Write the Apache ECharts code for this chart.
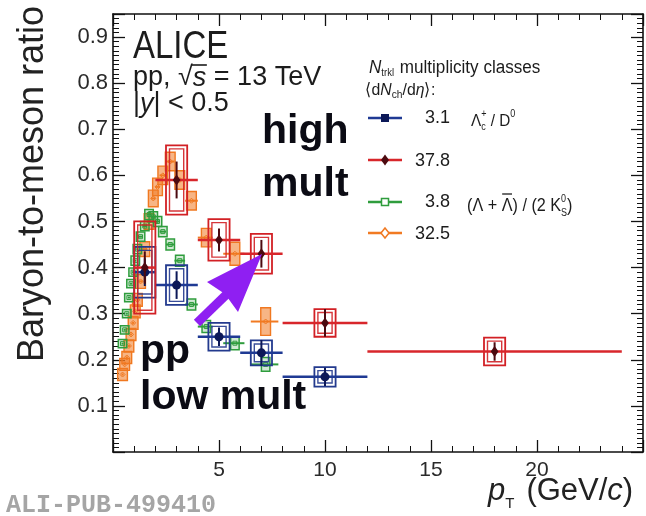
<!DOCTYPE html>
<html>
<head>
<meta charset="utf-8">
<script src="https://cdn.jsdelivr.net/npm/echarts@6/dist/echarts.min.js"></script>
<style>
  html, body { margin: 0; padding: 0; background: #ffffff; }
  #chart { width: 646px; height: 516px; }
</style>
</head>
<body>
<div id="chart"></div>
<script>
// ---------- Λc+ / D0 (pT bins in GeV/c) ----------
const lcX   = [1.5, 3, 5, 7, 10, 18];
const lcXLo = [1, 2, 4, 6, 8, 12];
const lcXHi = [2, 4, 6, 8, 12, 24];
// <dNch/deta> = 3.1
const lcLowY    = [0.39, 0.362, 0.25, 0.215, 0.163];
const lcLowStat = [0.03, 0.03, 0.02, 0.028, 0.02];
const lcLowSys  = [0.055, 0.043, 0.03, 0.027, 0.021];
// <dNch/deta> = 37.8
const lcHighY    = [0.40, 0.59, 0.46, 0.43, 0.28, 0.218];
const lcHighStat = [0.035, 0.04, 0.025, 0.03, 0.03, 0.02];
const lcHighSys  = [0.10, 0.075, 0.045, 0.043, 0.03, 0.03];

// ---------- (Λ + anti-Λ) / (2 K0S) ----------
const v0X   = [0.45, 0.55, 0.65, 0.75, 0.85, 0.95, 1.05, 1.15, 1.3, 1.5, 1.7, 1.9, 2.1, 2.35, 2.7, 3.15, 3.7, 4.4, 5.75, 7.2];
const v0XLo = [0.4, 0.5, 0.6, 0.7, 0.8, 0.9, 1.0, 1.1, 1.2, 1.4, 1.6, 1.8, 2.0, 2.2, 2.5, 2.9, 3.4, 4.0, 5.2, 6.5];
const v0XHi = [0.5, 0.6, 0.7, 0.8, 0.9, 1.0, 1.1, 1.2, 1.4, 1.6, 1.8, 2.0, 2.2, 2.5, 2.9, 3.4, 4.0, 4.7, 6.2, 7.8];
// <dNch/deta> = 3.8
const v0LowY   = [0.235, 0.265, 0.30, 0.335, 0.365, 0.39, 0.415, 0.44, 0.467, 0.49, 0.515, 0.51, 0.50, 0.478, 0.45, 0.415, 0.32, 0.272, 0.236, 0.19];
const v0LowSys = [0.009, 0.009, 0.009, 0.009, 0.009, 0.009, 0.01, 0.01, 0.01, 0.01, 0.011, 0.011, 0.011, 0.011, 0.012, 0.012, 0.012, 0.013, 0.014, 0.015];
// <dNch/deta> = 32.5
const v0HighY   = [0.168, 0.19, 0.205, 0.23, 0.255, 0.28, 0.305, 0.33, 0.37, 0.44, 0.50, 0.55, 0.575, 0.60, 0.63, 0.59, 0.545, 0.465, 0.43, 0.283];
const v0HighSys = [0.013, 0.013, 0.013, 0.013, 0.013, 0.014, 0.014, 0.014, 0.015, 0.016, 0.017, 0.018, 0.019, 0.02, 0.02, 0.02, 0.02, 0.02, 0.025, 0.03];

// ---------- axis ticks ----------
const xTicks = [5, 10, 15, 20];
const yTicks = [0.1, 0.2, 0.3, 0.4, 0.5, 0.6, 0.7, 0.8, 0.9];

const FAM = '"Liberation Sans", Arial, Helvetica, sans-serif';
const COL = {
  blue:   { line: '#1f3a94', box: '#233a8e', mark: '#0c1858' },
  red:    { line: '#d8262b', box: '#d22025', mark: '#4c0a10' },
  green:  { line: '#2f9d3d', box: '#2f9d3d', mark: '#2f9d3d', fill: 'rgba(47,157,61,0.22)' },
  orange: { line: '#f17a22', box: '#f07820', mark: '#f07820', fill: 'rgba(240,120,32,0.55)' }
};

function rows(xs, ys, lo, hi, stat, sys) {
  return ys.map((y, i) => [xs[i], y, lo[i], hi[i], stat ? stat[i] : 0, sys[i]]);
}

function markerShape(kind, cx, cy, c) {
  if (kind === 'circle') {
    return { type: 'circle', shape: { cx: cx, cy: cy, r: 4.5 }, style: { fill: c.mark } };
  }
  if (kind === 'diamond') {
    const r = 5.5;
    return { type: 'polygon', shape: { points: [[cx, cy - r], [cx + r * 0.7, cy], [cx, cy + r], [cx - r * 0.7, cy]] }, style: { fill: c.mark } };
  }
  if (kind === 'osquare') {
    return { type: 'rect', shape: { x: cx - 2, y: cy - 2, width: 4, height: 4 }, style: { fill: 'none', stroke: c.mark, lineWidth: 1 } };
  }
  const r = 2.5;
  return { type: 'polygon', shape: { points: [[cx, cy - r], [cx + r, cy], [cx, cy + r], [cx - r, cy]] }, style: { fill: 'none', stroke: c.mark, lineWidth: 1 } };
}

// one series = systematic boxes, bin-width bars, statistical bars and markers
function pointsSeries(name, data, c, opt) {
  return {
    name: name,
    type: 'custom',
    xAxisIndex: 0, yAxisIndex: 0,
    z: opt.z,
    data: data,
    clip: true,
    renderItem: function (params, api) {
      const x = api.value(0), y = api.value(1);
      const xl = api.value(2), xh = api.value(3);
      const st = api.value(4), sy = api.value(5);
      const p = api.coord([x, y]);
      const pl = api.coord([xl, y]);
      const ph = api.coord([xh, y]);
      const bl = api.coord([x - opt.boxHalf, y + sy]);
      const br = api.coord([x + opt.boxHalf, y - sy]);
      const children = [];
      children.push({
        type: 'rect',
        shape: { x: bl[0], y: bl[1], width: br[0] - bl[0], height: br[1] - bl[1] },
        style: { fill: c.fill || 'none', stroke: c.box, lineWidth: opt.boxLW }
      });
      if (opt.double) {
        const ins = 3.5;
        children.push({
          type: 'rect',
          shape: { x: bl[0] + ins, y: bl[1] + ins, width: br[0] - bl[0] - 2 * ins, height: Math.max(1, br[1] - bl[1] - 2 * ins) },
          style: { fill: 'none', stroke: c.box, lineWidth: 1.4, opacity: 0.9 }
        });
      }
      children.push({
        type: 'line',
        shape: { x1: pl[0], y1: p[1], x2: ph[0], y2: p[1] },
        style: { stroke: c.line, lineWidth: opt.barLW }
      });
      if (st > 0) {
        const s1 = api.coord([x, y + st]);
        const s0 = api.coord([x, y - st]);
        children.push({
          type: 'line',
          shape: { x1: p[0], y1: s1[1], x2: p[0], y2: s0[1] },
          style: { stroke: opt.statColor || c.line, lineWidth: 2 }
        });
      }
      children.push(markerShape(opt.marker, p[0], p[1], c));
      return { type: 'group', children: children };
    }
  };
}

// ---------- text helpers ----------
const mctx = document.createElement('canvas').getContext('2d');
function fontOf(size, italic, bold, fam) {
  return (italic ? 'italic ' : '') + (bold ? 'bold ' : '') + size + 'px ' + (fam || FAM);
}
function textW(str, font) { mctx.font = font; return mctx.measureText(str).width; }

// a run of text pieces laid out left to right; y is the vertical middle of the run.
// records the left/right x of every piece in spans when given
function run(x, y, pieces, base, spans) {
  const out = [];
  let cx = x;
  const sx = base.sx || 1, sy = base.sy || 1;
  pieces.forEach(pc => {
    const size = pc.s || base.size;
    const font = fontOf(size, pc.it, pc.b || base.bold, base.fam);
    const w = textW(pc.t, font) * sx;
    const left = cx + (pc.dx || 0);
    out.push({
      type: 'text', x: left, y: y + (pc.dy || 0), z: 100,
      scaleX: sx, scaleY: sy, silent: true,
      style: { text: pc.t, font: font, fill: base.color || '#1a1a1a', textAlign: 'left', textVerticalAlign: 'middle', verticalAlign: 'middle' }
    });
    if (spans) spans.push([left, left + w]);
    if (!pc.noAdvance) cx += w + (pc.gap || 0);
  });
  return out;
}

// ---------- legend samples ----------
function legendSample(y, c, kind) {
  const items = [
    { type: 'line', shape: { x1: 368, y1: y, x2: 402, y2: y }, style: { stroke: c.line, lineWidth: 2.5 }, z: 100 }
  ];
  let m;
  if (kind === 'square') {
    m = { type: 'rect', shape: { x: 381, y: y - 4, width: 8, height: 8 }, style: { fill: c.mark } };
  } else if (kind === 'diamond') {
    m = { type: 'polygon', shape: { points: [[385, y - 5.5], [389, y], [385, y + 5.5], [381, y]] }, style: { fill: c.mark } };
  } else if (kind === 'osquare') {
    m = { type: 'rect', shape: { x: 381.5, y: y - 3.5, width: 7, height: 7 }, style: { fill: '#fff', stroke: c.mark, lineWidth: 1.5 } };
  } else {
    m = { type: 'polygon', shape: { points: [[385, y - 5], [389, y], [385, y + 5], [381, y]] }, style: { fill: '#fff', stroke: c.mark, lineWidth: 1.5 } };
  }
  m.z = 101;
  items.push(m);
  return items;
}

const graphics = [];
const TXT = '#1c1c1c';
// experiment label
graphics.push(...run(133, 47, [{ t: 'ALICE' }], { size: 33, sy: 1.2, color: TXT }));
const sqrtSpans = [];
graphics.push(...run(133, 78, [{ t: 'pp, ' }, { t: '\u221A' }, { t: 's', it: true }, { t: ' = 13 TeV' }], { size: 27, sx: 1, color: TXT }, sqrtSpans));
graphics.push(...run(133, 104, [{ t: '|' }, { t: 'y', it: true }, { t: '| < 0.5' }], { size: 27, sx: 1, color: TXT }));
// vinculum of the square root, over the s
graphics.push({ type: 'line', shape: { x1: sqrtSpans[1][1] - 1.5, y1: 65, x2: sqrtSpans[2][1] + 0.5, y2: 65 }, style: { stroke: TXT, lineWidth: 1.6 }, z: 100 });

// legend header
graphics.push(...run(369, 68, [{ t: 'N', it: true }, { t: 'trkl', s: 10, dy: 5, gap: 1 }, { t: ' multiplicity classes' }], { size: 18, sx: 0.95, color: TXT }));
graphics.push(...run(365, 90, [{ t: '\u27E8d' }, { t: 'N', it: true }, { t: 'ch', s: 11, dy: 5 }, { t: '/d' }, { t: '\u03B7', it: true }, { t: '\u27E9:' }], { size: 17, sx: 0.93, color: TXT }));

// legend rows
graphics.push(...legendSample(118, COL.blue, 'square'));
graphics.push(...legendSample(160, COL.red, 'diamond'));
graphics.push(...legendSample(202, COL.green, 'osquare'));
graphics.push(...legendSample(233, COL.orange, 'odiamond'));
[['3.1', 118], ['37.8', 161], ['3.8', 202], ['32.5', 234]].forEach(([s, y]) => {
  graphics.push({ type: 'text', x: 450, y: y, z: 100, silent: true,
    style: { text: s, font: fontOf(18), fill: TXT, textAlign: 'right', textVerticalAlign: 'middle', verticalAlign: 'middle' } });
});
graphics.push(...run(471, 121, [{ t: '\u039B' }, { t: 'c', s: 10, dy: 6, noAdvance: true }, { t: '+', s: 10, dy: -7 }, { t: ' / D' }, { t: '0', s: 10, dy: -7 }], { size: 17, sx: 0.9, color: TXT }));
const v0Spans = [];
graphics.push(...run(467, 206, [{ t: '(\u039B + ' }, { t: '\u039B' }, { t: ') / (2 K' }, { t: '0', s: 10, dy: -7, noAdvance: true }, { t: 'S', s: 10, dy: 7 }, { t: ')' }], { size: 18, sx: 0.9, color: TXT }, v0Spans));
// bar over the second Λ
graphics.push({ type: 'line', shape: { x1: v0Spans[1][0] + 0.5, y1: 194, x2: v0Spans[1][1] - 0.5, y2: 194 }, style: { stroke: TXT, lineWidth: 1.3 }, z: 100 });

// annotations
const NOTE = '#0b0b14';
graphics.push(...run(262, 132, [{ t: 'high' }], { size: 41, bold: true, color: NOTE }));
graphics.push(...run(262, 185, [{ t: 'mult' }], { size: 41, bold: true, color: NOTE }));
graphics.push(...run(140, 352, [{ t: 'pp' }], { size: 41, bold: true, color: NOTE }));
graphics.push(...run(140, 398, [{ t: 'low mult' }], { size: 41, bold: true, color: NOTE }));

// arrow from the low-multiplicity points towards the high-multiplicity ones
const ARROW = '#8f1ff2';
graphics.push({ type: 'line', shape: { x1: 197, y1: 323, x2: 229, y2: 292 }, style: { stroke: ARROW, lineWidth: 9, lineCap: 'butt' }, z: 90 });
graphics.push({ type: 'polygon', shape: { points: [[262, 254], [207, 282], [225, 294], [238, 312]] }, style: { fill: ARROW }, z: 90 });

// axis titles
graphics.push({
  type: 'text', x: 33, y: 184, rotation: Math.PI / 2, z: 100, silent: true,
  style: { text: 'Baryon-to-meson ratio', font: fontOf(36), fill: '#222', textAlign: 'center', textVerticalAlign: 'middle', verticalAlign: 'middle' }
});
graphics.push(...run(488, 491, [{ t: 'p', it: true }, { t: 'T', s: 15, dy: 13, gap: 12 }, { t: '(GeV/' }, { t: 'c', it: true }, { t: ')' }], { size: 31, color: '#222' }));

// publication id
graphics.push({ type: 'text', x: 6, y: 506, z: 100, silent: true,
  style: { text: 'ALI-PUB-499410', font: fontOf(25, false, true, '"Liberation Mono", "DejaVu Sans Mono", monospace'), fill: '#a5a5a5', textAlign: 'left', textVerticalAlign: 'middle', verticalAlign: 'middle' } });

const axisCommon = {
  type: 'value',
  axisLine: { show: true, onZero: false, lineStyle: { color: '#111', width: 1.6 } },
  axisTick: { show: true, inside: true, length: 12, lineStyle: { color: '#111', width: 1.3 } },
  minorTick: { show: true, length: 6, lineStyle: { color: '#111', width: 1 } },
  splitLine: { show: false },
  minorSplitLine: { show: false }
};

const option = {
  animation: false,
  backgroundColor: '#ffffff',
  grid: { left: 113, right: 3, top: 14, bottom: 64, containLabel: false },
  xAxis: [
    Object.assign({}, axisCommon, {
      min: 0, max: 25, interval: 5, position: 'bottom',
      minorTick: Object.assign({}, axisCommon.minorTick, { splitNumber: 5 }),
      axisLabel: { show: true, margin: 8, fontSize: 21, fontFamily: FAM, color: '#2a2a2a',
        formatter: v => (xTicks.indexOf(v) >= 0 ? String(v) : '') }
    }),
    Object.assign({}, axisCommon, {
      min: 0, max: 25, interval: 5, position: 'top',
      minorTick: Object.assign({}, axisCommon.minorTick, { splitNumber: 5 }),
      axisLabel: { show: false }
    })
  ],
  yAxis: [
    Object.assign({}, axisCommon, {
      min: 0, max: 0.95, interval: 0.1, position: 'left',
      minorTick: Object.assign({}, axisCommon.minorTick, { splitNumber: 10 }),
      axisLabel: { show: true, margin: 5, fontSize: 22, fontFamily: FAM, color: '#2a2a2a',
        formatter: v => { const t = yTicks.find(q => Math.abs(q - v) < 1e-6); return t ? t.toFixed(1) : ''; } }
    }),
    Object.assign({}, axisCommon, {
      min: 0, max: 0.95, interval: 0.1, position: 'right',
      minorTick: Object.assign({}, axisCommon.minorTick, { splitNumber: 10 }),
      axisLabel: { show: false }
    })
  ],
  series: [
    pointsSeries('v0 32.5', rows(v0X, v0HighY, v0XLo, v0XHi, null, v0HighSys), COL.orange,
      { z: 2, boxHalf: 0.23, boxLW: 1.4, barLW: 2, marker: 'odiamond' }),
    pointsSeries('v0 3.8', rows(v0X, v0LowY, v0XLo, v0XHi, null, v0LowSys), COL.green,
      { z: 3, boxHalf: 0.2, boxLW: 1.5, barLW: 2, marker: 'osquare' }),
    pointsSeries('Lc 3.1', rows(lcX, lcLowY, lcXLo, lcXHi, lcLowStat, lcLowSys), COL.blue,
      { z: 4, boxHalf: 0.5, boxLW: 1.8, barLW: 2.5, marker: 'circle', double: true, statColor: '#0c1858' }),
    pointsSeries('Lc 37.8', rows(lcX, lcHighY, lcXLo, lcXHi, lcHighStat, lcHighSys), COL.red,
      { z: 5, boxHalf: 0.5, boxLW: 1.8, barLW: 2.5, marker: 'diamond', double: true, statColor: '#4c0a10' })
  ],
  graphic: { elements: graphics }
};

const chart = echarts.init(document.getElementById('chart'), null, { renderer: 'canvas' });
chart.setOption(option);
</script>
</body>
</html>
